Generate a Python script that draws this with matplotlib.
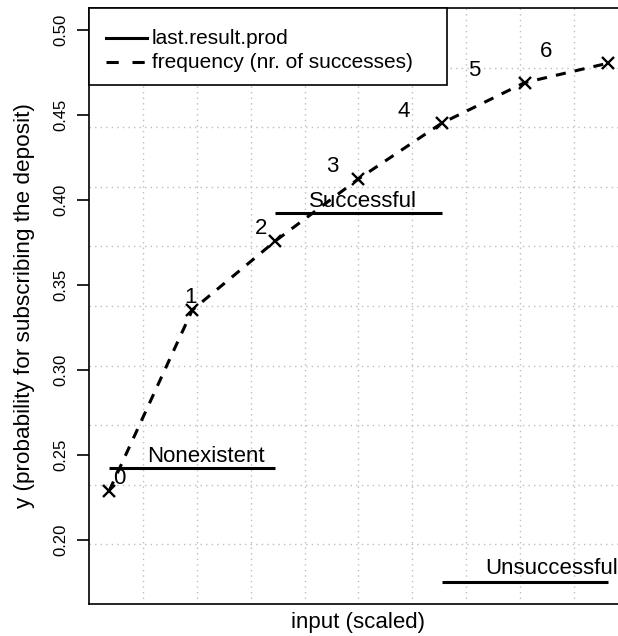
import numpy as np
import matplotlib
matplotlib.use("Agg")
import matplotlib.pyplot as plt
from matplotlib.patches import Rectangle

plt.rcParams['font.family'] = ['Liberation Sans', 'DejaVu Sans']

# data
n_success = [0, 1, 2, 3, 4, 5, 6]
freq = [0.229, 0.3353, 0.3759, 0.4124, 0.4451, 0.4690, 0.4804]

seg_names = ["Nonexistent", "Successful", "Unsuccessful"]
seg_start = [0, 2, 4]
seg_end = [2, 4, 6]
seg_value = [0.2422, 0.3922, 0.1755]
seg_text_x = [1.16, 3.06, 5.32]
seg_text_y = [0.249, 0.399, 0.183]

yticks = [0.20, 0.25, 0.30, 0.35, 0.40, 0.45, 0.50]
legend_labels = ["last.result.prod", "frequency (nr. of successes)"]

W, H = 618, 636
fig = plt.figure(figsize=(W / 100, H / 100), dpi=100)
# right edge of the box falls outside the picture, as in the original
ax = fig.add_axes([89.3 / W, 32 / H, 538.3 / W, 596 / H])
xlim = (-0.24, 6.24)
ylim = (0.1624, 0.5129)
ax.set_xlim(xlim)
ax.set_ylim(ylim)

def px(x, y):
    # pixel position (from top-left) -> figure fraction
    return x / W, 1 - y / H

# grid: 10 equal cells each way
gx = np.linspace(xlim[0], xlim[1], 11)[1:-1]
gy = np.linspace(ylim[0], ylim[1], 11)[1:-1]
for v in gx:
    ax.axvline(v, color="#bdbdbd", lw=1.0, ls=(0, (1, 3)), zorder=0)
for v in gy:
    ax.axhline(v, color="#bdbdbd", lw=1.0, ls=(0, (1, 3)), zorder=0)

# segments
for name, a, b, v, tx, ty in zip(seg_names, seg_start, seg_end, seg_value, seg_text_x, seg_text_y):
    ax.plot([a, b], [v, v], color="black", lw=2.2, solid_capstyle="butt", zorder=2)
    ax.text(tx, ty, name, fontsize=16, ha="center", va="center", zorder=3)

# frequency curve
dash = (0, (3.3, 3))
ax.plot(n_success, freq, color="black", lw=2.2, ls=dash, zorder=2)
ax.plot(n_success, freq, "x", color="black", ms=9, mew=1.7, zorder=3)
for i, (xv, yv) in enumerate(zip(n_success, freq)):
    ax.annotate(str(i), (xv, yv), xytext=(10 - 12 * i, 12), textcoords="offset pixels",
                ha="center", va="center", fontsize=16)

ax.set_xticks([])
ax.set_yticks(yticks)
ax.set_yticklabels(["%.2f" % t for t in yticks], rotation=90, va="center", fontsize=12)
ax.tick_params(axis="y", length=9, width=1.2, pad=6)
for s in ax.spines.values():
    s.set_linewidth(1.2)

ax.set_xlabel("input (scaled)", fontsize=16, labelpad=6)
ax.set_ylabel("y (probability for subscribing the deposit)", fontsize=16.2, labelpad=13)

# legend box drawn by hand, R style
x0, y0 = px(89.3, 85)
x1, y1 = px(446.7, 8)
fig.patches.append(Rectangle((x0, y0), x1 - x0, y1 - y0, transform=fig.transFigure,
                             facecolor="white", edgecolor="black", lw=1.2, zorder=5))
for k, (lab, ls) in enumerate(zip(legend_labels, ["-", (0, (4, 4.5))])):
    yy = 38 + 24 * k
    fig.add_artist(plt.Line2D([px(106, 0)[0], px(147, 0)[0]], [px(0, yy)[1]] * 2,
                              transform=fig.transFigure, color="black", lw=2.2, ls=ls, zorder=6))
    fig.text(*px(152, yy), lab, fontsize=15, ha="left", va="center", zorder=6)

fig.savefig("out.png", dpi=100)
